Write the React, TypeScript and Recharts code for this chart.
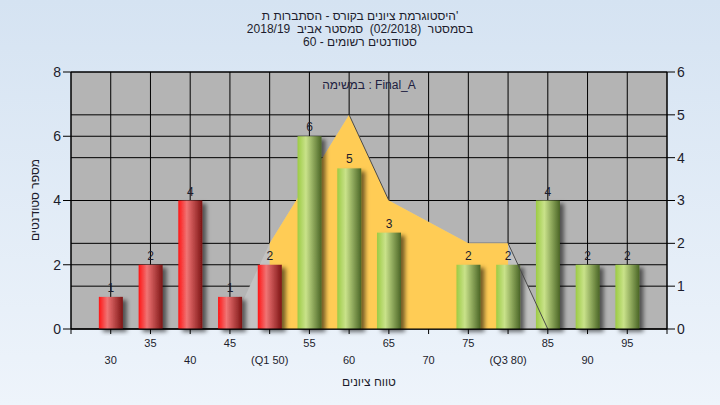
import {
  ComposedChart,
  Bar,
  Area,
  Line,
  XAxis,
  YAxis,
  CartesianGrid,
  LabelList,
} from "recharts";

// grade buckets and what the histogram shows for each
const grades = [30, 35, 40, 45, 50, 55, 60, 65, 70, 75, 80, 85, 90, 95];
const gradeLabels = ["30", "35", "40", "45", "(Q1 50)", "55", "60", "65", "70", "75", "(Q3 80)", "85", "90", "95"];
const studentCounts = [1, 2, 4, 1, 2, 6, 5, 3, 0, 2, 2, 4, 2, 2];
// distribution curve on the right axis (full span and the Q1..Q3 part)
const curveValues = [null, null, null, 0, 2, null, 5, 3, null, 2, 2, 0, null, null];
const quartileValues = [null, null, null, null, 2, null, 5, 3, null, 2, 2, null, null, null];
const edgeValues = [null, null, null, null, null, null, 5, 3, null, null, 2, 0, null, null];

const leftTicks = [0, 2, 4, 6, 8];
const rightTicks = [0, 1, 2, 3, 4, 5, 6];
const xTicks = [25, ...grades, 100];

const titleLines = [
  "היסטוגרמת ציונים בקורס - הסתברות ת'",
  "בסמסטר  (02/2018)  סמסטר אביב  2018/19",
  "סטודנטים רשומים - 60",
];

const data = grades.map((g, i) => ({
  grade: g,
  count: studentCounts[i],
  curve: curveValues[i],
  quartile: quartileValues[i],
  edge: edgeValues[i],
}));

const FONT = "'Liberation Sans', Arial, sans-serif";
const TEXT = "#1c1c2c";

function CylinderBar(props: any) {
  const { x, y, width, height, payload } = props;
  if (!height) return null;
  const fill = payload.grade <= 50 ? "url(#redCyl)" : "url(#greenCyl)";
  return <rect x={x} y={y} width={width} height={height} fill={fill} filter="url(#barShadow)" />;
}

function GradeTick(props: any) {
  const { x, y, payload } = props;
  const idx = grades.indexOf(payload.value);
  if (idx < 0) return null;
  const lower = idx % 2 === 0;
  return (
    <text
      x={x}
      y={y + (lower ? 28 : 11)}
      textAnchor="middle"
      fontSize={11}
      fontFamily={FONT}
      fill={TEXT}
    >
      {gradeLabels[idx]}
    </text>
  );
}

export default function App() {
  return (
    <div
      style={{
        position: "absolute",
        left: 0,
        top: 0,
        width: 720,
        height: 405,
        background: "linear-gradient(#d5e3f2, #eef4fb)",
        fontFamily: FONT,
      }}
    >
      <div
        style={{
          position: "absolute",
          top: 10,
          left: 0,
          width: 720,
          textAlign: "center",
          fontSize: 12,
          lineHeight: "13px",
          color: TEXT,
          whiteSpace: "pre",
        }}
      >
        {titleLines.map((t) => (
          <div key={t}>{t}</div>
        ))}
      </div>
      <div
        style={{
          position: "absolute",
          left: 35,
          top: 200,
          transform: "translate(-50%, -50%) rotate(-90deg)",
          fontSize: 12,
          color: TEXT,
          whiteSpace: "nowrap",
        }}
      >
        מספר סטודנטים
      </div>
      <div
        style={{
          position: "absolute",
          left: 369,
          top: 85,
          transform: "translate(-50%, -50%)",
          fontSize: 12,
          color: "#202040",
          whiteSpace: "nowrap",
          zIndex: 2,
        }}
      >
        במשימה : Final_A
      </div>
      <ComposedChart
        width={720}
        height={405}
        data={data}
        margin={{ top: 72, right: 0, bottom: 0, left: 0 }}
        style={{ position: "absolute", left: 0, top: 0 }}
      >
        <defs>
          <linearGradient id="redCyl" x1="0" y1="0" x2="1" y2="0">
            <stop offset="0%" stopColor="#ff1414" />
            <stop offset="35%" stopColor="#f07474" />
            <stop offset="100%" stopColor="#7c1414" />
          </linearGradient>
          <linearGradient id="greenCyl" x1="0" y1="0" x2="1" y2="0">
            <stop offset="0%" stopColor="#9ccb44" />
            <stop offset="35%" stopColor="#c9e28a" />
            <stop offset="100%" stopColor="#4a6526" />
          </linearGradient>
          <filter id="barShadow" x="-30%" y="-10%" width="180%" height="130%">
            <feDropShadow dx="4" dy="3" stdDeviation="2" floodColor="#000" floodOpacity="0.55" />
          </filter>
        </defs>
        <CartesianGrid
          yAxisId="left"
          xAxisId="x"
          fill="#b4b4b4"
          fillOpacity={1}
          stroke="#000"
          strokeOpacity={1}
          verticalPoints={undefined}
        />
        <CartesianGrid yAxisId="right" xAxisId="x" vertical={false} stroke="#000" />
        <XAxis
          xAxisId="x"
          dataKey="grade"
          type="number"
          domain={[25, 100]}
          ticks={xTicks}
          interval={0}
          height={76}
          tickSize={5}
          stroke="#000"
          tick={<GradeTick />}
          label={{
            value: "טווח ציונים",
            position: "insideBottom",
            offset: 19,
            fontSize: 12,
            fill: TEXT,
            fontFamily: FONT,
          }}
        />
        <YAxis
          yAxisId="left"
          orientation="left"
          width={71}
          domain={[0, 8]}
          ticks={leftTicks}
          interval={0}
          tickSize={8}
          stroke="#000"
          tick={{ fontSize: 14, fill: TEXT, fontFamily: FONT }}
        />
        <YAxis
          yAxisId="right"
          orientation="right"
          width={53}
          domain={[0, 6]}
          ticks={rightTicks}
          interval={0}
          tickSize={8}
          stroke="#000"
          tick={{ fontSize: 14, fill: TEXT, fontFamily: FONT }}
        />
        <Area
          xAxisId="x"
          yAxisId="right"
          dataKey="curve"
          type="linear"
          connectNulls
          stroke="none"
          fill="#c2c2c2"
          fillOpacity={1}
          isAnimationActive={false}
          dot={false}
          activeDot={false}
        />
        <Area
          xAxisId="x"
          yAxisId="right"
          dataKey="quartile"
          type="linear"
          connectNulls
          stroke="none"
          fill="#ffcc55"
          fillOpacity={1}
          isAnimationActive={false}
          dot={false}
          activeDot={false}
        />
        <Line
          xAxisId="x"
          yAxisId="right"
          dataKey="edge"
          type="linear"
          stroke="#4a4a4a"
          strokeWidth={1}
          dot={false}
          activeDot={false}
          isAnimationActive={false}
        />
        <Bar
          xAxisId="x"
          yAxisId="left"
          dataKey="count"
          barSize={24}
          shape={<CylinderBar />}
          isAnimationActive={false}
        >
          <LabelList
            dataKey="count"
            position="top"
            offset={5}
            fontSize={12}
            fill={TEXT}
            fontFamily={FONT}
            formatter={(v: any) => (v ? v : "")}
          />
        </Bar>
      </ComposedChart>
    </div>
  );
}
